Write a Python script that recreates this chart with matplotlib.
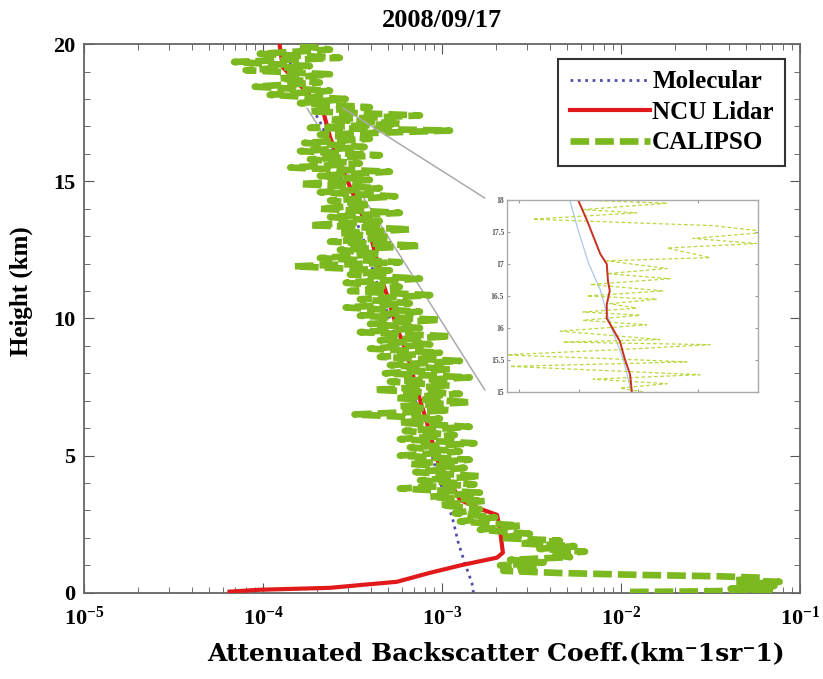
import matplotlib
matplotlib.use("Agg")
import matplotlib.pyplot as plt
from matplotlib.patches import ConnectionPatch
from matplotlib.ticker import LogLocator, NullFormatter, MultipleLocator
import numpy as np

plt.rcParams['font.family'] = ['Liberation Serif', 'DejaVu Serif']
plt.rcParams['font.weight'] = 'bold'
plt.rcParams['mathtext.fontset'] = 'custom'
plt.rcParams['mathtext.rm'] = 'Liberation Serif:bold'
plt.rcParams['mathtext.bf'] = 'Liberation Serif:bold'

title = "2008/09/17"

# Molecular profile
mol_height = [0, 0.36, 1.09, 1.86, 2.77, 4, 5, 6, 7, 8, 9, 10, 11, 12, 13, 14, 15,
              16, 17, 17.5, 18, 19, 20]
mol_value = [1.50e-3, 1.47e-3, 1.34e-3, 1.23e-3, 1.14e-3, 9.8e-4, 8.8e-4, 7.9e-4,
             7.1e-4, 6.3e-4, 5.7e-4, 5.1e-4, 4.5e-4, 4.0e-4, 3.6e-4, 3.1e-4, 2.75e-4,
             2.45e-4, 2.15e-4, 1.95e-4, 1.8e-4, 1.5e-4, 1.25e-4]

# NCU Lidar profile
ncu_height = [0.04, 0.11, 0.15, 0.18, 0.29, 0.40, 0.73, 1.02, 1.28, 1.46, 2.30, 2.84,
              3.10, 3.39, 4.85, 6.19, 7.40, 8.74, 9.65, 10.75, 11.29, 13.11, 14.21,
              15.66, 16.61, 17.60, 18.51, 19.16, 19.96]
ncu_value = [6.5e-5, 9.6e-5, 1.61e-4, 2.37e-4, 3.62e-4, 5.6e-4, 8.6e-4, 1.31e-3,
             2.03e-3, 2.19e-3, 2.11e-3, 2.03e-3, 1.57e-3, 1.26e-3, 9.4e-4, 8.25e-4,
             7.25e-4, 6.37e-4, 5.6e-4, 4.99e-4, 4.68e-4, 3.96e-4, 3.35e-4, 2.69e-4,
             2.37e-4, 2.16e-4, 1.61e-4, 1.29e-4, 1.24e-4]

# CALIPSO profile (noisy, read from top to bottom)
cal_height = [19.95, 19.8, 19.65, 19.5, 19.35, 19.2, 19.05, 18.9, 18.75, 18.6, 18.45,
              18.3, 18.15, 18.0, 17.85, 17.7, 17.55, 17.4, 17.25, 17.1, 16.95, 16.85,
              16.7, 16.55, 16.4, 16.25, 16.1, 15.95, 15.8, 15.65, 15.5, 15.35, 15.2,
              15.05, 14.9, 14.75, 14.6, 14.45, 14.3, 14.15, 14.0, 13.85, 13.7, 13.55,
              13.4, 13.25, 13.1, 12.95, 12.8, 12.65, 12.5, 12.35, 12.2, 12.05, 11.9,
              11.75, 11.6, 11.45, 11.3, 11.15, 11.0, 10.85, 10.7, 10.55, 10.4, 10.25,
              10.1, 9.95, 9.8, 9.65, 9.5, 9.35, 9.2, 9.05, 8.9, 8.75, 8.6, 8.45, 8.3,
              8.15, 8.0, 7.85, 7.7, 7.55, 7.4, 7.25, 7.1, 6.95, 6.8, 6.65, 6.5, 6.35,
              6.2, 6.05, 5.9, 5.75, 5.6, 5.45, 5.3, 5.15, 5.0, 4.85, 4.7, 4.55, 4.4,
              4.25, 4.1, 3.95, 3.8, 3.65, 3.5, 3.35, 3.2, 3.05, 2.9, 2.75, 2.6, 2.45,
              2.3, 2.15, 2.0, 1.9, 1.8, 1.7, 1.6, 1.5, 1.4, 1.3, 1.2, 1.1, 1.0, 0.9,
              0.8, 0.72, 0.65, 0.6, 0.55, 0.45, 0.4, 0.3, 0.25, 0.15, 0.1, 0.05, 0.03]
cal_value = [1.61e-4, 2.37e-4, 9.6e-5, 2.69e-4, 6.9e-5, 1.83e-4, 8.0e-5, 2.37e-4,
             1.24e-4, 2.08e-4, 9.0e-5, 2.37e-4, 1.09e-4, 2.9e-4, 1.61e-4, 3.96e-4,
             1.83e-4, 7.54e-4, 2.37e-4, 5.82e-4, 1.83e-4, 1.11e-3, 2.08e-4, 3.96e-4,
             1.7e-4, 3.7e-4, 1.61e-4, 4.5e-4, 1.83e-4, 3.48e-4, 1.42e-4, 5.12e-4,
             2.08e-4, 3.96e-4, 1.61e-4, 4.5e-4, 2.08e-4, 5.5e-4, 2.37e-4, 3.96e-4,
             2.08e-4, 5.82e-4, 2.37e-4, 4.5e-4, 1.83e-4, 6.62e-4, 2.69e-4, 5.12e-4,
             2.37e-4, 7.54e-4, 2.69e-4, 4.5e-4, 2.08e-4, 5.82e-4, 1.5e-4, 5.12e-4,
             3.06e-4, 7.54e-4, 2.9e-4, 5.82e-4, 3.06e-4, 8.6e-4, 3.48e-4, 6.62e-4,
             2.9e-4, 7.54e-4, 3.48e-4, 9.75e-4, 3.96e-4, 7.54e-4, 3.48e-4, 1.11e-3,
             4.5e-4, 8.6e-4, 3.96e-4, 9.75e-4, 4.5e-4, 1.26e-3, 5.12e-4, 1.11e-3,
             4.8e-4, 1.43e-3, 5.12e-4, 1.11e-3, 4.2e-4, 1.26e-3, 5.5e-4, 1.43e-3,
             5.82e-4, 1.11e-3, 3.25e-4, 9.75e-4, 5.82e-4, 1.43e-3, 6.2e-4, 1.18e-3,
             5.82e-4, 1.52e-3, 6.62e-4, 1.26e-3, 5.82e-4, 1.43e-3, 6.62e-4, 1.34e-3,
             7.1e-4, 1.63e-3, 7.54e-4, 1.52e-3, 5.82e-4, 1.63e-3, 8.6e-4, 1.74e-3,
             9.75e-4, 1.63e-3, 1.18e-3, 1.98e-3, 1.26e-3, 2.73e-3, 1.63e-3, 3.1e-3,
             2.11e-3, 4.56e-3, 2.73e-3, 5.5e-3, 3.5e-3, 6.3e-3, 4.0e-3, 5.2e-3,
             2.4e-3, 3.7e-3, 2.11e-3, 3.5e-3, 2.2e-3, 4.56e-3, 1.3e-2, 3.57e-2,
             6.0e-2, 4.3e-2, 7.7e-2, 4.6e-2, 7.2e-2, 4.1e-2, 6.8e-2, 2.8e-2, 1.12e-2]

# inset (15-18 km)
ins_ncu_height = [18.0, 17.68, 17.16, 17.0, 16.74, 16.58, 16.37, 16.15, 15.99, 15.79,
                  15.52, 15.27, 15.0]
ins_ncu_value = [1.99e-4, 2.14e-4, 2.36e-4, 2.47e-4, 2.49e-4, 2.52e-4, 2.47e-4,
                 2.47e-4, 2.57e-4, 2.69e-4, 2.77e-4, 2.86e-4, 2.89e-4]
ins_mol_height = [18.0, 17.5, 17.0, 16.6, 16.3, 16.0, 15.5, 15.0]
ins_mol_value = [1.85e-4, 2.0e-4, 2.17e-4, 2.36e-4, 2.45e-4, 2.55e-4, 2.75e-4, 2.88e-4]
ins_cal_height = [18.0, 17.95, 17.85, 17.8, 17.7, 17.6, 17.5, 17.4, 17.32, 17.25, 17.1,
                  17.05, 16.93, 16.85, 16.77, 16.68, 16.58, 16.5, 16.45, 16.38, 16.31,
                  16.25, 16.2, 16.12, 16.05, 15.95, 15.82, 15.78, 15.74, 15.66, 15.58,
                  15.52, 15.47, 15.4, 15.27, 15.2, 15.13, 15.06, 15.0]
ins_cal_value = [2.02e-4, 3.48e-4, 2.07e-4, 2.97e-4, 1.23e-4, 4.25e-4, 5.2e-4, 3.91e-4,
                 4.98e-4, 3.48e-4, 4.2e-4, 2.47e-4, 3.48e-4, 2.47e-4, 3.53e-4, 2.19e-4,
                 3.41e-4, 2.14e-4, 3.31e-4, 2.52e-4, 2.97e-4, 2.07e-4, 3.03e-4, 2.07e-4,
                 3.14e-4, 1.69e-4, 3.36e-4, 1.74e-4, 4.2e-4, 2.64e-4, 0.75e-4, 2.52e-4,
                 3.81e-4, 0.85e-4, 4.03e-4, 2.24e-4, 3.48e-4, 2.69e-4, 3.08e-4]

green = '#7cb820'
red = '#e01a1a'
blue = '#5050a8'

fig = plt.figure(figsize=(8.23, 6.79), dpi=100)
ax = fig.add_axes([0.102, 0.127, 0.870, 0.808])

ax.plot(mol_value, mol_height, linestyle=':', color=blue, lw=2, label='Molecular', zorder=2)
ax.plot(ncu_value, ncu_height, '-', color=red, lw=3, label='NCU Lidar', zorder=3)
ax.plot(cal_value, cal_height, color=green, lw=4.8, dashes=(2.8, 0.9),
        label='CALIPSO', zorder=4)

ax.set_xscale('log')
ax.set_xlim(1e-5, 1e-1)
ax.set_ylim(0, 20)
ax.yaxis.set_major_locator(MultipleLocator(5))
ax.yaxis.set_minor_locator(MultipleLocator(1))
ax.xaxis.set_major_locator(LogLocator(base=10, numticks=10))
ax.xaxis.set_minor_locator(LogLocator(base=10, subs=np.arange(2, 10), numticks=20))
ax.xaxis.set_minor_formatter(NullFormatter())
ax.tick_params(which='both', direction='in', top=True, right=True, color='#555555')
ax.tick_params(which='major', length=7, labelsize=16)
ax.tick_params(axis='x', which='major', pad=10)
ax.tick_params(axis='y', which='major', pad=6)
ax.tick_params(which='minor', length=4)
for s in ax.spines.values():
    s.set_color('#666666')
    s.set_linewidth(1.3)

ax.set_title(title, fontsize=19, fontweight='bold', pad=12)
ax.set_ylabel('Height (km)', fontsize=18, fontweight='bold')
ax.yaxis.set_label_coords(-0.071, 0.55)
ax.set_xlabel('Attenuated Backscatter Coeff.(km⁻1sr⁻1)', fontsize=18,
              fontweight='bold', family=['DejaVu Serif'])
ax.xaxis.set_label_coords(0.575, -0.088)

leg = ax.legend(loc='upper right', fontsize=18, handlelength=3.2, handletextpad=0.1,
                fancybox=False, framealpha=1, edgecolor='#333333',
                borderaxespad=0.6, labelspacing=0.3, borderpad=0.45)
leg.get_frame().set_linewidth(1.5)

# inset
axin = fig.add_axes([0.616, 0.4227, 0.305, 0.2827])
axin.plot(ins_mol_value, ins_mol_height, '-', color='#a8c8e8', lw=0.9)
axin.plot(ins_cal_value, ins_cal_height, color='#b8d840', lw=0.9, dashes=(3, 2))
axin.plot(ins_ncu_value, ins_ncu_height, '-', color='#c83020', lw=1.4)
axin.set_xlim(0.8e-4, 5e-4)
axin.set_ylim(15, 18)
axin.set_xticks([1e-4, 2e-4, 3e-4, 4e-4])
axin.set_xticklabels([])
axin.set_yticks([15, 15.5, 16, 16.5, 17, 17.5, 18])
axin.set_yticklabels(['15', '15.5', '16', '16.5', '17', '17.5', '18'])
axin.tick_params(direction='in', top=True, right=True, length=2.5, labelsize=5.5,
                 pad=2, color='#999999', labelcolor='#555555')
for s in axin.spines.values():
    s.set_color('#aaaaaa')
    s.set_linewidth(1.0)

# connector lines
for xa, yb, zo in [(2.8e-4, 1.01, 5), (1.76e-4, 0.01, 1.5)]:
    con = ConnectionPatch(xyA=(xa, 17.67), coordsA=ax.transData,
                          xyB=(-0.088, yb), coordsB=axin.transAxes,
                          color='#aaaaaa', lw=1.1, zorder=zo)
    ax.add_artist(con)

fig.savefig('out.png', dpi=100)
